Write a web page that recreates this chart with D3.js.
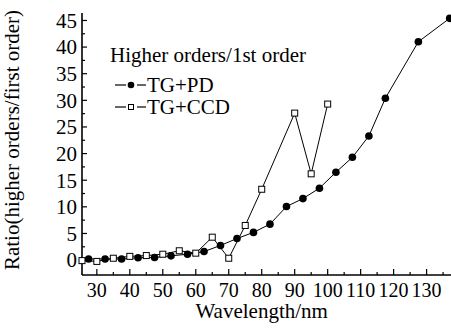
<!DOCTYPE html>
<html>
<head>
<meta charset="utf-8">
<script src="https://cdn.jsdelivr.net/npm/d3@7"></script>
<style>
  body { margin: 0; background: #fff; }
</style>
</head>
<body>
<div id="chart"></div>
<script>
// wavelengths and ratios
var pdWave  = [27.5, 32.5, 37.5, 42.5, 47.5, 52.5, 57.5, 62.5, 67.5, 72.5, 77.5, 82.5, 87.5, 92.5, 97.5, 102.5, 107.5, 112.5, 117.5, 127.5, 137];
var pdRatio = [0.2, 0.2, 0.2, 0.45, 0.5, 0.8, 1.1, 1.6, 2.75, 4.05, 5.2, 6.75, 10.05, 11.55, 13.5, 16.5, 19.3, 23.3, 30.4, 41.0, 45.4];

var ccdWave  = [25.5, 30, 35, 40, 45, 50, 55, 60, 65, 70, 75, 80, 90, 95, 100];
var ccdRatio = [-0.1, -0.25, 0.35, 0.7, 0.85, 1.1, 1.75, 1.3, 4.3, 0.35, 6.5, 13.3, 27.6, 16.2, 29.3];

var xTicks = [30, 40, 50, 60, 70, 80, 90, 100, 110, 120, 130];
var yTicks = [0, 5, 10, 15, 20, 25, 30, 35, 40, 45];

var legendTitle = "Higher orders/1st order";
var seriesNames = ["TG+PD", "TG+CCD"];

var width = 451, height = 329;

var svg = d3.select("#chart").append("svg")
  .attr("width", width)
  .attr("height", height)
  .style("font-family", "Liberation Serif");

var x = d3.scaleLinear().domain([25.5, 137.4]).range([82, 451]);
var y = d3.scaleLinear().domain([-2.8, 46.4]).range([275, 13]);

// axes lines
svg.append("line")
  .attr("x1", x.range()[0]).attr("x2", x.range()[1])
  .attr("y1", 275).attr("y2", 275)
  .attr("stroke", "#000").attr("stroke-width", 1.6);
svg.append("line")
  .attr("x1", 82).attr("x2", 82)
  .attr("y1", 13).attr("y2", 275)
  .attr("stroke", "#000").attr("stroke-width", 1.6);

// x ticks (inside), major every 10, minor every 5
var xMinor = d3.range(30, 137, 5);
svg.selectAll(".xt").data(xMinor).enter().append("line")
  .attr("x1", function(d){ return x(d); })
  .attr("x2", function(d){ return x(d); })
  .attr("y1", 275)
  .attr("y2", function(d){ return d % 10 == 0 ? 269 : 272; })
  .attr("stroke", "#000").attr("stroke-width", 1.2);

svg.selectAll(".xl").data(xTicks).enter().append("text")
  .attr("x", function(d){ return x(d); })
  .attr("y", 297)
  .attr("text-anchor", "middle")
  .attr("font-size", 20)
  .text(function(d){ return d; });

// y ticks, major every 5, minor every 2.5
var yMinor = d3.range(0, 46, 2.5);
svg.selectAll(".yt").data(yMinor).enter().append("line")
  .attr("x1", 82)
  .attr("x2", function(d){ return d % 5 == 0 ? 87 : 85; })
  .attr("y1", function(d){ return y(d); })
  .attr("y2", function(d){ return y(d); })
  .attr("stroke", "#000").attr("stroke-width", 1.2);

svg.selectAll(".yl").data(yTicks).enter().append("text")
  .attr("x", 77)
  .attr("y", function(d){ return y(d); })
  .attr("dy", "0.35em")
  .attr("text-anchor", "end")
  .attr("font-size", 21)
  .text(function(d){ return d; });

// axis titles
svg.append("text")
  .attr("x", x(80))
  .attr("y", 318)
  .attr("text-anchor", "middle")
  .attr("font-size", 21)
  .text("Wavelength/nm");

svg.append("text")
  .attr("transform", "translate(19,140) rotate(-90)")
  .attr("text-anchor", "middle")
  .attr("font-size", 21)
  .text("Ratio(higher orders/first order)");

var line = d3.line()
  .x(function(d){ return x(d[0]); })
  .y(function(d){ return y(d[1]); });

var pdData = pdWave.map(function(w, i){ return [w, pdRatio[i]]; });
var ccdData = ccdWave.map(function(w, i){ return [w, ccdRatio[i]]; });

svg.append("path").datum(ccdData)
  .attr("d", line)
  .attr("fill", "none").attr("stroke", "#000").attr("stroke-width", 1);
svg.append("path").datum(pdData)
  .attr("d", line)
  .attr("fill", "none").attr("stroke", "#000").attr("stroke-width", 1);

svg.selectAll(".sq").data(ccdData).enter().append("rect")
  .attr("x", function(d){ return x(d[0]) - 3; })
  .attr("y", function(d){ return y(d[1]) - 3; })
  .attr("width", 6).attr("height", 6)
  .attr("fill", "#fff").attr("stroke", "#000").attr("stroke-width", 1);

svg.selectAll(".dot").data(pdData).enter().append("circle")
  .attr("cx", function(d){ return x(d[0]); })
  .attr("cy", function(d){ return y(d[1]); })
  .attr("r", 3.8)
  .attr("fill", "#000");

// legend
svg.append("text")
  .attr("x", 110).attr("y", 62)
  .attr("font-size", 21)
  .text(legendTitle);

var legY = [85, 107];
seriesNames.forEach(function(name, i){
  var g = svg.append("g");
  g.append("line").attr("x1", 115).attr("x2", 126).attr("y1", legY[i]).attr("y2", legY[i])
    .attr("stroke", "#000").attr("stroke-width", 1.2);
  g.append("line").attr("x1", 137).attr("x2", 146).attr("y1", legY[i]).attr("y2", legY[i])
    .attr("stroke", "#000").attr("stroke-width", 1.2);
  if (i == 0) {
    g.append("circle").attr("cx", 131).attr("cy", legY[i]).attr("r", 3.3).attr("fill", "#000");
  } else {
    g.append("rect").attr("x", 128.5).attr("y", legY[i] - 2.5).attr("width", 5).attr("height", 5)
      .attr("fill", "#fff").attr("stroke", "#000").attr("stroke-width", 1);
  }
  g.append("text")
    .attr("x", 147).attr("y", legY[i])
    .attr("dy", "0.35em")
    .attr("font-size", 21)
    .text(name);
});
</script>
</body>
</html>
